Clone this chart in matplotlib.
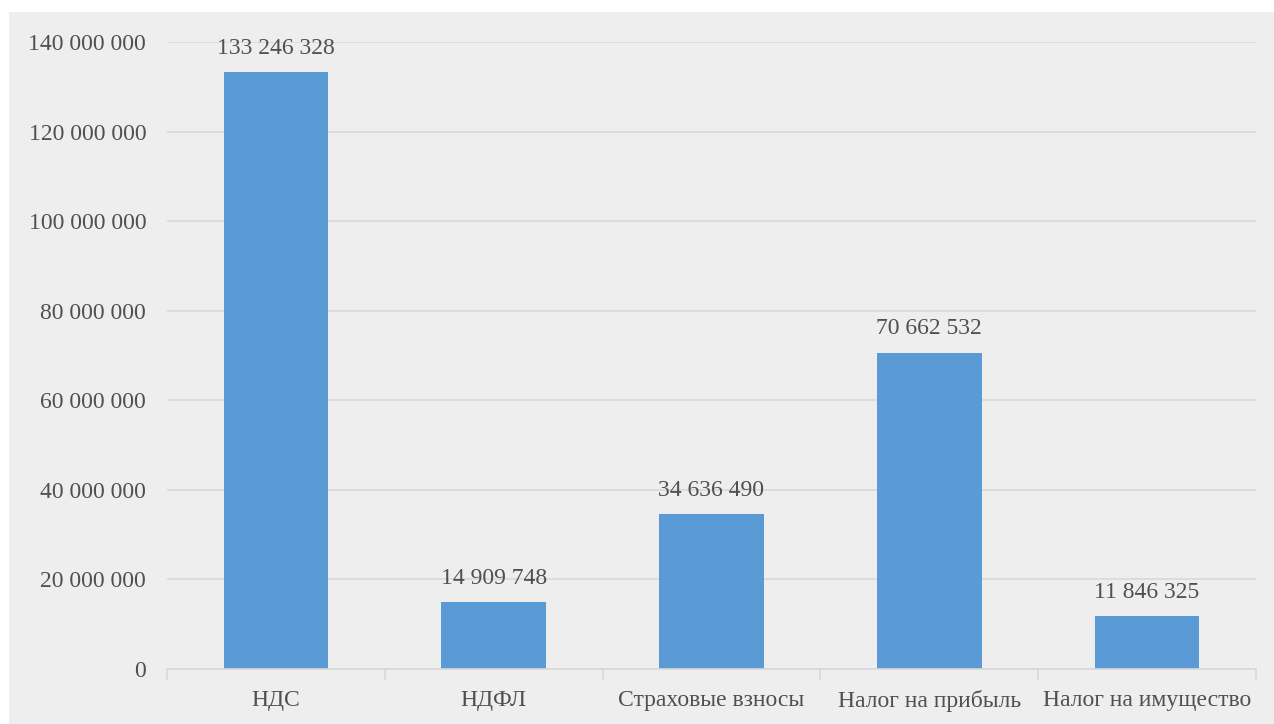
import matplotlib
matplotlib.use("Agg")
import matplotlib.pyplot as plt
from matplotlib.patches import Rectangle
from matplotlib.ticker import FuncFormatter, MultipleLocator

categories = ["НДС", "НДФЛ", "Страховые взносы", "Налог на прибыль", "Налог на имущество"]
values = [133246328, 14909748, 34636490, 70662532, 11846325]

W, H, DPI = 1274, 724, 100
bar_color = "#5b9bd5"
text_color = "#505050"
grid_color = "#d9d9d9"
panel_color = "#eeeeee"

plt.rcParams["font.family"] = ["Liberation Serif", "DejaVu Serif"]

fig = plt.figure(figsize=(W / DPI, H / DPI), dpi=DPI, facecolor="white")
fig.patches.append(Rectangle((9 / W, 0), 1 - 9 / W, 1 - 12 / H,
                             transform=fig.transFigure, facecolor=panel_color,
                             edgecolor="none", zorder=-10))

ax = fig.add_axes([167 / W, 1 - 669 / H, (1256 - 167) / W, (669 - 42) / H])
ax.set_facecolor("none")

x = list(range(len(categories)))
bars = ax.bar(x, values, width=0.48, color=bar_color, zorder=3)

def fmt(v):
    return f"{int(v):,}".replace(",", " ")

for b, v in zip(bars, values):
    ax.annotate(fmt(v), (b.get_x() + b.get_width() / 2, v),
                xytext=(0, 9.5), textcoords="offset points",
                ha="center", va="bottom", fontsize=17, color=text_color, zorder=4)

ax.set_xlim(-0.5, len(categories) - 0.5)
ax.set_ylim(0, 140000000)
ax.yaxis.set_major_locator(MultipleLocator(20000000))
ax.yaxis.set_major_formatter(FuncFormatter(lambda v, p: fmt(v)))
ax.grid(axis="y", color=grid_color, linewidth=1.2, zorder=0)

for s in ["top", "right", "left"]:
    ax.spines[s].set_visible(False)
ax.spines["bottom"].set_color(grid_color)
ax.spines["bottom"].set_linewidth(1.2)
ax.spines["bottom"].set_zorder(5)

ax.set_xticks(x)
ax.set_xticklabels(categories)
ax.set_xticks([i - 0.5 for i in range(len(categories) + 1)], minor=True)
ax.tick_params(axis="x", which="major", length=0, pad=15, labelsize=17, labelcolor=text_color)
ax.tick_params(axis="x", which="minor", length=8, width=1.2, color=grid_color, direction="out")
ax.tick_params(axis="y", length=0, pad=15, labelsize=17, labelcolor=text_color)

fig.savefig("out.png", dpi=DPI, facecolor="white")
